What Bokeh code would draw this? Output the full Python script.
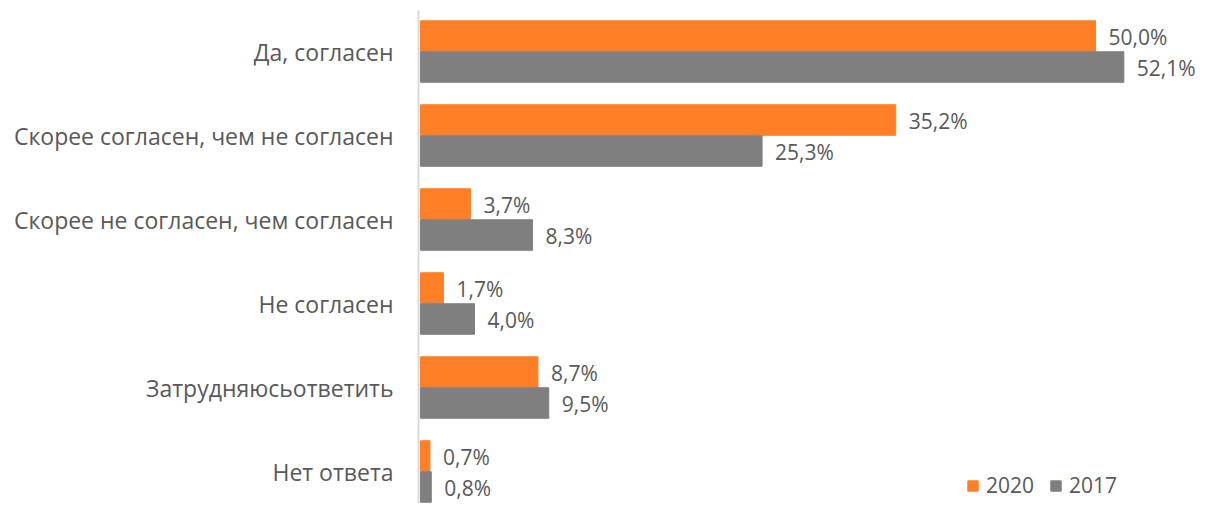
from bokeh.plotting import figure
from bokeh.models import ColumnDataSource, Range1d, FixedTicker, Legend, LegendItem
from bokeh.core.properties import value
from bokeh.embed import file_html
from bokeh.resources import INLINE

categories = ["Да, согласен", "Скорее согласен, чем не согласен", "Скорее не согласен, чем согласен",
              "Не согласен", "Затрудняюсьответить", "Нет ответа"]
years = ["2020", "2017"]
values_2020 = [50.0, 35.2, 3.7, 1.7, 8.7, 0.7]
values_2017 = [52.1, 25.3, 8.3, 4.0, 9.5, 0.8]

ORANGE = "#FF7F27"
GRAY = "#7F7F7F"
TXT = "#595959"
FONT = "Open Sans"

W, H = 1196, 503
LEFT, TOP = 418, 10
PXU = 13.5       # pixels per percent
C0, SP = 51, 84  # first category centre, spacing (px)

p = figure(width=W, height=H, output_backend="svg", toolbar_location=None,
           x_range=Range1d(-(420 - LEFT) / PXU, (W - 420) / PXU),
           y_range=Range1d(-(H - C0) / SP, (C0 - TOP) / SP),
           min_border_left=LEFT, min_border_right=0, min_border_top=TOP, min_border_bottom=0)
p.outline_line_color = None
p.grid.visible = False
p.xaxis.visible = False

pos = [-i for i in range(len(categories))]
off = 15.5 / SP
h = 30.5 / SP
src20 = ColumnDataSource(dict(y=[v + off for v in pos], x=values_2020,
                              lab=[f"{v:.1f}%".replace(".", ",") for v in values_2020]))
src17 = ColumnDataSource(dict(y=[v - off for v in pos], x=values_2017,
                              lab=[f"{v:.1f}%".replace(".", ",") for v in values_2017]))

r20 = p.hbar(y="y", right="x", left=0, height=h, color=ORANGE, source=src20)
r17 = p.hbar(y="y", right="x", left=0, height=h, color=GRAY, source=src17)

for s in (src20, src17):
    p.text(x="x", y="y", text="lab", source=s, x_offset=13, y_offset=1, text_align="left",
           text_baseline="middle", text_font=value(FONT), text_font_size="21px", text_color=TXT)

ya = p.yaxis[0]
ya.ticker = FixedTicker(ticks=pos)
ya.major_label_overrides = {v: c for v, c in zip(pos, categories)}
ya.major_tick_line_color = None
ya.minor_tick_line_color = None
ya.axis_line_color = "#D9D9D9"
ya.axis_line_width = 2
ya.major_label_standoff = 19
ya.major_label_text_font = FONT
ya.major_label_text_font_size = "23px"
ya.major_label_text_color = TXT

legend = Legend(items=[LegendItem(label=years[0], renderers=[r20]),
                       LegendItem(label=years[1], renderers=[r17])],
                orientation="horizontal", location=(548, 4),
                padding=0, margin=0, spacing=15, label_standoff=7,
                glyph_width=13, glyph_height=13,
                border_line_color=None, background_fill_alpha=0,
                label_text_font=FONT, label_text_font_size="21px", label_text_color=TXT)
p.add_layout(legend, "center")

open("out.html", "w").write(file_html(p, INLINE))
